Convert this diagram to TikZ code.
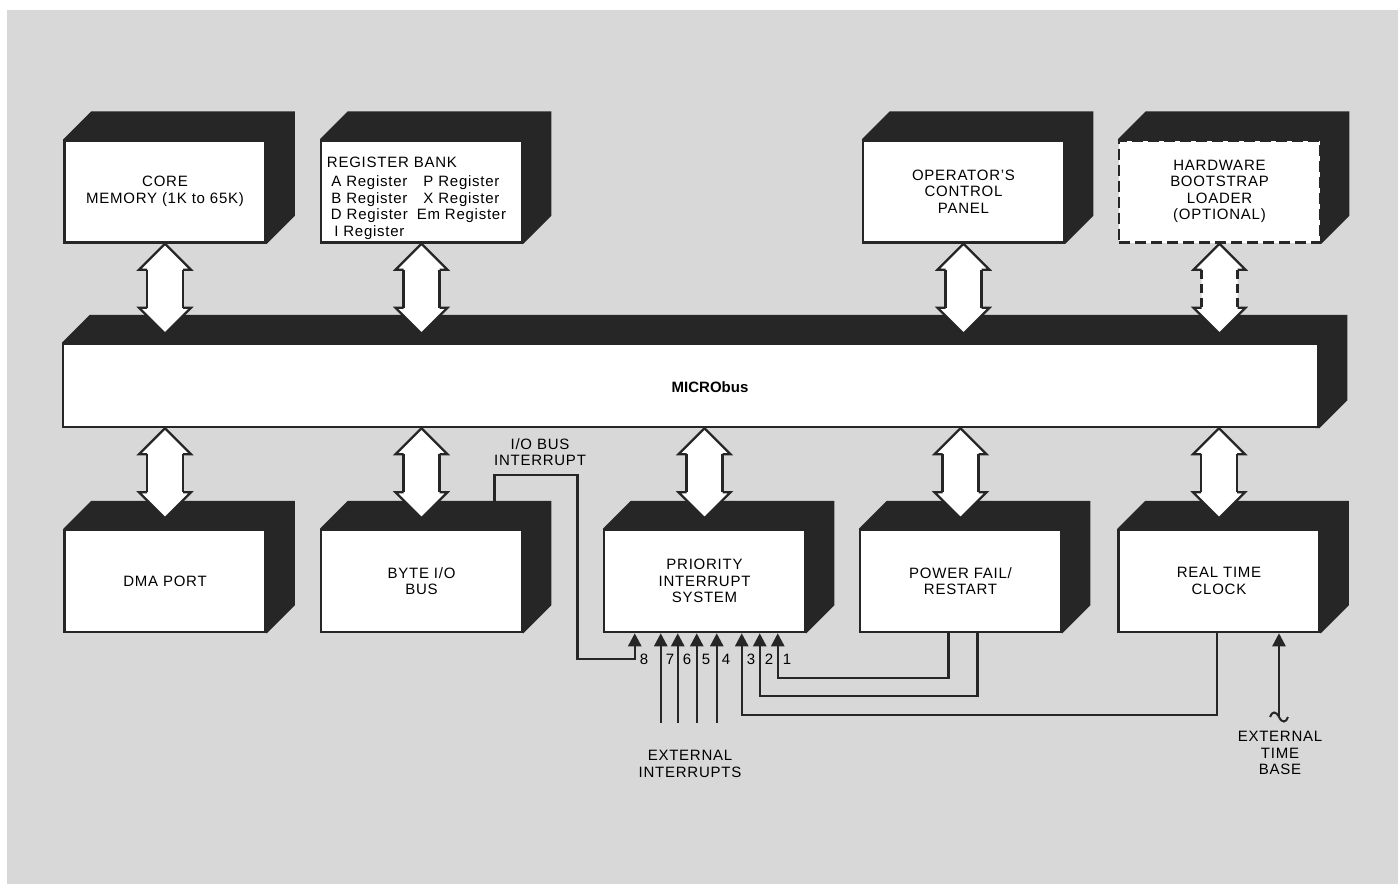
\documentclass[tikz,border=0pt]{standalone}
\usepackage{fontspec}
\setmainfont{Liberation Sans}[LetterSpace=5]
\usetikzlibrary{arrows.meta,backgrounds}
\definecolor{panelgray}{RGB}{216,216,216}
\definecolor{ink}{RGB}{38,38,38}
\tikzset{
  blk/.style={draw=ink, fill=white, line width=2.5pt, minimum width=201pt, minimum height=102pt, align=center, inner sep=2pt},
  faceshade/.style={fill=ink},
  arrowline/.style={draw=ink, line width=2.2pt},
  wire/.style={draw=ink, line width=2.4pt},
  into/.style={wire, -{Triangle[length=13pt,width=13pt]}},
  note/.style={align=center, inner sep=0pt},
}
% dark top and side face behind a box
\newcommand{\depthface}[1]{%
  \fill[faceshade] (#1.north west) -- ++(28,-28) -- ([shift={(28,-28)}]#1.north east)
    -- ([shift={(28,-28)}]#1.south east) -- (#1.south east) -- cycle;}
% hollow two-headed bus arrow hanging from a point
\newcommand{\busarrow}[2][]{%
  \fill[white] (#2) -- ++(26,26) -- ++(-8,0) -- ++(0,38) -- ++(8,0) -- ++(-26,26)
    -- ++(-26,-26) -- ++(8,0) -- ++(0,-38) -- ++(-8,0) -- cycle;
  \draw[arrowline] ([shift={(-18,26)}]#2) -- ++(-8,0) -- ++(26,-26) -- ++(26,26) -- ++(-8,0);
  \draw[arrowline] ([shift={(-18,64)}]#2) -- ++(-8,0) -- ++(26,26) -- ++(26,-26) -- ++(-8,0);
  \draw[arrowline,#1] ([shift={(-18,26)}]#2) -- ++(0,38) ([shift={(18,26)}]#2) -- ++(0,38);}
\begin{document}
\begin{tikzpicture}[x=1pt,y=-1pt,font=\fontsize{15pt}{16.5pt}\selectfont]
\useasboundingbox (0,0) rectangle (1398,884);
\begin{scope}[on background layer]
\fill[white] (0,0) rectangle (1398,884);
\fill[panelgray] (7,10) rectangle (1398,884);
\end{scope}
% units above the bus
\node[blk] (core) at (165,191.5) {CORE\\MEMORY (1K to 65K)};
\node[blk] (regs) at (421.5,191.5) {};
\node[anchor=north west,inner sep=0pt] (regtext) at ([shift={(11,16)}]regs.north west)
  {\begin{tabular}{@{}c@{\hspace{9pt}}c@{}}
   \multicolumn{2}{@{\hspace{-4pt}}l@{}}{REGISTER BANK}\\[3pt]
   A Register & P Register\\
   B Register & X Register\\
   D Register & Em Register\\
   I Register & \\
   \end{tabular}};
\node[blk] (opanel) at (963.5,191.5) {OPERATOR’S\\CONTROL\\PANEL};
\node[blk,dash pattern=on 11pt off 5pt] (boot) at (1219.5,191.5) {HARDWARE\\BOOTSTRAP\\LOADER\\(OPTIONAL)};
\node[blk,minimum width=1255pt,minimum height=83pt] (bus) at (690.5,385.5) {};
\node[font=\fontsize{15pt}{16.5pt}\bfseries\addfontfeature{LetterSpace=0}] (busname) at (710,387) {MICRObus};
% units below the bus
\node[blk] (dma) at (165,581) {DMA PORT};
\node[blk] (byte) at (421.5,581) {BYTE I/O\\BUS};
\node[blk] (prio) at (704.5,581) {PRIORITY\\INTERRUPT\\SYSTEM};
\node[blk] (power) at (960.5,581) {POWER FAIL/\\RESTART};
\node[blk] (clock) at (1219,581) {REAL TIME\\CLOCK};
\begin{scope}[on background layer]
\foreach \b in {core,regs,opanel,boot,bus,dma,byte,prio,power,clock} {\depthface{\b}}
\end{scope}
% bus arrows
\busarrow{core.south}
\busarrow{regs.south}
\busarrow{opanel.south}
\busarrow[dash pattern=on 9pt off 5pt]{boot.south}
\foreach \b in {dma,byte,prio,power,clock} {
  \coordinate (\b tap) at (bus.south -| \b.north);
  \busarrow{\b tap}
}
% interrupt inputs
\foreach \n/\dx in {8/32,7/58,6/75,5/94,4/114,3/139,2/157,1/175} {
  \coordinate (in\n) at ([xshift=\dx]prio.south west);
  \node[anchor=west,inner sep=1pt] (num\n) at ([shift={(4,26)}]in\n) {\n};
}
\coordinate (iotap) at ([shift={(73,-28)}]byte.north);
\draw[into] (iotap) -- ++(0,-26) -| ++(83,184) -| (in8);
\node[note] (iolabel) at (540,452) {I/O BUS\\INTERRUPT};
\coordinate (extlow) at (690,723);
\foreach \n in {7,6,5,4} {\draw[into] (in\n |- extlow) -- (in\n);}
\node[note] (extlabel) at (690,764) {EXTERNAL\\INTERRUPTS};
\draw[into] ([xshift=-12]power.south) -- ++(0,45) -| (in1);
\draw[into] ([xshift=17]power.south) -- ++(0,63) -| (in2);
\draw[into] ([xshift=-2]clock.south) -- ++(0,82) -| (in3);
% time base
\coordinate (tbase) at (1279,717);
\draw[into] (tbase) -- (tbase |- clock.south);
\draw[wire,line width=2pt] ([xshift=-9]tbase) .. controls +(2,-6) and +(-3,-6) .. (tbase)
  .. controls +(3,6) and +(-2,6) .. ([xshift=9]tbase);
\node[note] (tblabel) at (1280,753) {EXTERNAL\\TIME\\BASE};
\end{tikzpicture}
\end{document}
